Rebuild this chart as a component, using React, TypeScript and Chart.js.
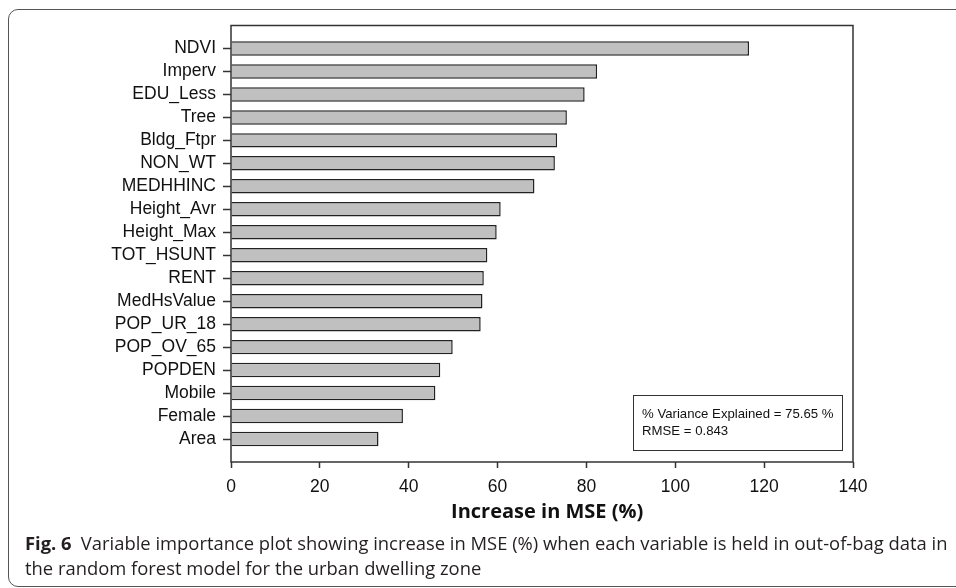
import React, { useEffect, useRef } from "react";
import { Chart, registerables } from "chart.js";

Chart.register(...registerables);

const variables = [
  "NDVI", "Imperv", "EDU_Less", "Tree", "Bldg_Ftpr", "NON_WT", "MEDHHINC",
  "Height_Avr", "Height_Max", "TOT_HSUNT", "RENT", "MedHsValue", "POP_UR_18",
  "POP_OV_65", "POPDEN", "Mobile", "Female", "Area",
];
const increaseMSE = [
  116.6, 82.4, 79.6, 75.6, 73.4, 72.9, 68.3, 60.7, 59.8, 57.7, 56.9, 56.6,
  56.2, 49.9, 47.1, 46.0, 38.7, 33.2,
];
const xTicks = [0, 20, 40, 60, 80, 100, 120, 140];
const statsLines = ["% Variance Explained = 75.65 %", "RMSE = 0.843"];

const boxPlugin = {
  id: "plotBox",
  afterDatasetsDraw(chart: any) {
    const { ctx, chartArea } = chart;
    ctx.save();
    ctx.strokeStyle = "#333";
    ctx.lineWidth = 1.5;
    ctx.strokeRect(chartArea.left, chartArea.top, chartArea.right - chartArea.left, chartArea.bottom - chartArea.top);
    ctx.restore();
  },
};

export default function App() {
  const ref = useRef<HTMLCanvasElement>(null);
  useEffect(() => {
    if (!ref.current) return;
    const chart = new Chart(ref.current, {
      type: "bar",
      data: {
        datasets: [
          {
            data: increaseMSE.map((v, i) => ({ x: v, y: i + 1 })),
            backgroundColor: "#c0c0c0",
            borderColor: "#222",
            borderWidth: 1.5,
            categoryPercentage: 1,
            barPercentage: 0.63,
          },
        ],
      },
      options: {
        indexAxis: "y",
        animation: false,
        responsive: false,
        devicePixelRatio: 1,
        layout: { padding: { left: 0, right: 103, top: 17, bottom: 0 } },
        plugins: { legend: { display: false }, tooltip: { enabled: false } },
        scales: {
          x: {
            type: "linear",
            min: 0,
            max: 140,
            afterFit: (s: any) => { s.height = 76; },
            afterBuildTicks: (s: any) => { s.ticks = xTicks.map((v) => ({ value: v })); },
            grid: { drawOnChartArea: false, tickLength: 6, tickColor: "#333", tickWidth: 1.5 },
            border: { display: false },
            ticks: {
              padding: 9,
              color: "#111",
              font: { family: "'Liberation Sans', Arial", size: 17.5 },
              maxRotation: 0,
            },
            title: {
              display: true,
              text: "  Increase in MSE (%)",
              color: "#111",
              font: { family: "'Open Sans'", size: 20, weight: "bold" },
              padding: { top: 0, bottom: 14 },
            },
          },
          y: {
            type: "linear",
            min: 0,
            max: variables.length + 1,
            reverse: true,
            offset: false,
            afterFit: (s: any) => { s.width = 223; },
            grid: {
              offset: false,
              drawOnChartArea: false,
              tickLength: 8,
              tickWidth: 1.5,
              tickColor: (c: any) =>
                c.tick && c.tick.value >= 1 && c.tick.value <= variables.length ? "#333" : "rgba(0,0,0,0)",
            },
            border: { display: false },
            ticks: {
              stepSize: 1,
              autoSkip: false,
              padding: 7,
              color: "#111",
              font: { family: "'Liberation Sans', Arial", size: 17.5 },
              callback: (v: any) => variables[Number(v) - 1] ?? "",
            },
          },
        },
      },
      plugins: [boxPlugin],
    });
    return () => chart.destroy();
  }, []);

  return (
    <div style={{ position: "fixed", left: 0, top: 0, width: 956, height: 588, overflow: "hidden", background: "#fff" }}>
      <div
        style={{
          position: "absolute",
          left: 8,
          top: 9,
          width: 1000,
          height: 578,
          border: "1.5px solid #555",
          borderRadius: 10,
          boxSizing: "border-box",
        }}
      />
      <canvas ref={ref} width={948} height={530} style={{ position: "absolute", left: 8, top: 8 }} />
      <div
        style={{
          position: "absolute",
          left: 633,
          top: 395,
          width: 210,
          height: 56,
          boxSizing: "border-box",
          border: "1.5px solid #333",
          fontFamily: "'Liberation Sans', Arial",
          fontSize: 13.2,
          lineHeight: "16.5px",
          color: "#111",
          paddingLeft: 8,
          paddingTop: 10,
        }}
      >
        {statsLines.map((l) => (
          <div key={l}>{l}</div>
        ))}
      </div>
      <div
        style={{
          position: "absolute",
          left: 25,
          top: 530,
          fontFamily: "'Open Sans'",
          fontSize: 18.4,
          lineHeight: "25px",
          color: "#231f20",
          whiteSpace: "nowrap",
        }}
      >
        <span style={{ fontWeight: "bold" }}>Fig. 6</span>
        {"\u2002Variable importance plot showing increase in MSE (%) when each variable is held in out-of-bag data in"}
        <br />
        the random forest model for the urban dwelling zone
      </div>
    </div>
  );
}
